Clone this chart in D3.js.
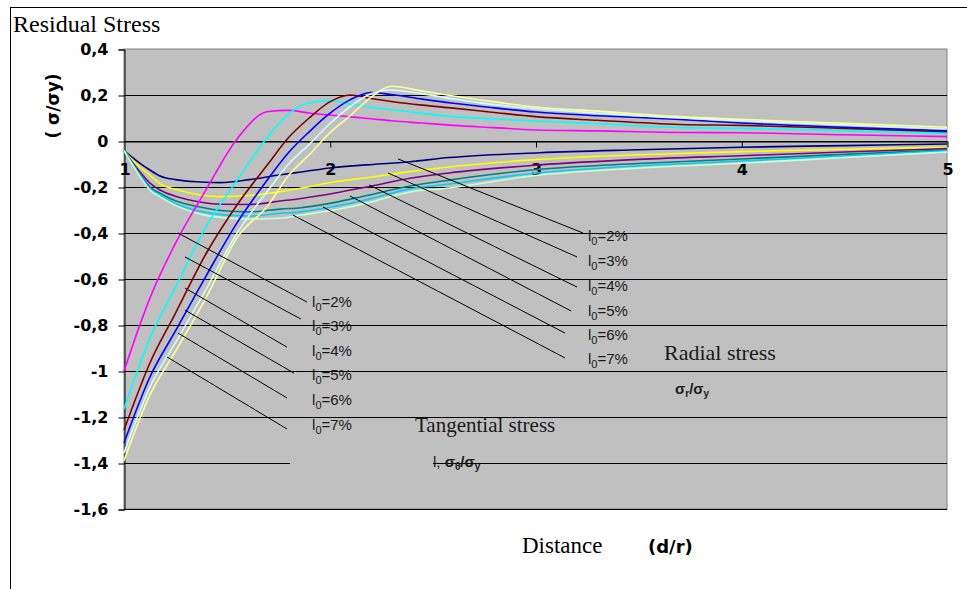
<!DOCTYPE html>
<html>
<head>
<meta charset="utf-8">
<script src="https://cdn.jsdelivr.net/npm/d3@7"></script>
<style>
  html, body { margin: 0; padding: 0; background: #fff; }
  svg { display: block; }
</style>
</head>
<body>
<svg id="chart" width="967" height="589"></svg>
<script>
// ---- data ----
const xTicks = [1, 2, 3, 4, 5];
const yTicks = [0.4, 0.2, 0, -0.2, -0.4, -0.6, -0.8, -1, -1.2, -1.4, -1.6];
const yTickLabels = ["0,4", "0,2", "0", "-0,2", "-0,4", "-0,6", "-0,8", "-1", "-1,2", "-1,4", "-1,6"];
const levels = ["2%", "3%", "4%", "5%", "6%", "7%"];

// tangential stress  σθ/σy
const tangentialX = [1, 1.126, 1.25, 1.4, 1.55, 1.7, 1.8, 1.9, 2.0, 2.1, 2.2, 2.3, 2.45, 2.6, 2.8, 3.0, 3.3, 3.7, 4.0, 4.5, 5.0];
const tangential2 = [-1.0, -0.683, -0.445, -0.21, 0.01, 0.128, 0.133, 0.122, 0.113, 0.105, 0.097, 0.088, 0.078, 0.068, 0.058, 0.048, 0.044, 0.037, 0.036, 0.027, 0.019];
const tangential3 = [-1.165, -0.857, -0.636, -0.37, -0.17, 0.02, 0.118, 0.166, 0.175, 0.162, 0.147, 0.136, 0.12, 0.106, 0.096, 0.087, 0.075, 0.058, 0.055, 0.045, 0.033];
const tangential4 = [-1.257, -0.965, -0.749, -0.488, -0.277, -0.1, 0.015, 0.1, 0.17, 0.2, 0.185, 0.172, 0.156, 0.143, 0.124, 0.106, 0.09, 0.072, 0.068, 0.055, 0.04];
const tangential5 = [-1.313, -1.026, -0.826, -0.585, -0.355, -0.165, -0.05, 0.04, 0.12, 0.18, 0.211, 0.202, 0.182, 0.164, 0.144, 0.126, 0.11, 0.094, 0.078, 0.06, 0.045];
const tangential6 = [-1.357, -1.07, -0.877, -0.643, -0.4, -0.215, -0.1, -0.015, 0.075, 0.15, 0.205, 0.222, 0.205, 0.183, 0.158, 0.14, 0.122, 0.1, 0.088, 0.07, 0.052];
const tangential7 = [-1.39, -1.104, -0.915, -0.68, -0.42, -0.28, -0.15, -0.06, 0.035, 0.11, 0.19, 0.238, 0.217, 0.196, 0.17, 0.148, 0.13, 0.106, 0.094, 0.077, 0.06];

// radial stress  σr/σy
const radialX = [1, 1.078, 1.126, 1.175, 1.25, 1.37, 1.47, 1.61, 1.76, 1.86, 2.02, 2.18, 2.39, 2.58, 3.02, 3.5, 4.0, 4.5, 5.0];
const radial2 = [-0.042, -0.097, -0.126, -0.152, -0.168, -0.178, -0.181, -0.168, -0.147, -0.135, -0.115, -0.104, -0.09, -0.072, -0.051, -0.038, -0.027, -0.02, -0.013];
const radial3 = [-0.042, -0.115, -0.148, -0.186, -0.21, -0.235, -0.242, -0.237, -0.22, -0.205, -0.178, -0.16, -0.133, -0.113, -0.08, -0.06, -0.046, -0.036, -0.027];
const radial4 = [-0.042, -0.135, -0.183, -0.213, -0.24, -0.265, -0.275, -0.276, -0.261, -0.25, -0.227, -0.2, -0.162, -0.139, -0.104, -0.08, -0.064, -0.048, -0.033];
const radial5 = [-0.042, -0.145, -0.2, -0.227, -0.26, -0.287, -0.302, -0.308, -0.296, -0.29, -0.268, -0.237, -0.196, -0.17, -0.123, -0.098, -0.078, -0.058, -0.039];
const radial6 = [-0.042, -0.15, -0.208, -0.235, -0.272, -0.306, -0.32, -0.326, -0.314, -0.308, -0.285, -0.255, -0.208, -0.187, -0.138, -0.108, -0.087, -0.065, -0.043];
const radial7 = [-0.042, -0.155, -0.213, -0.242, -0.28, -0.318, -0.332, -0.339, -0.336, -0.322, -0.3, -0.27, -0.222, -0.204, -0.148, -0.118, -0.097, -0.072, -0.048];

const tangentialColors = ["#ff00ff", "#00ffff", "#800000", "#0000ff", "#ccffff", "#ffff99"];
const radialColors = ["#000080", "#ffff00", "#800080", "#008080", "#00ccff", "#ccffcc"];

// leader lines: [x0, y0, x1, y1] in chart units
const tangentialLeaders = [
  [1.262, -0.40, 1.889, -0.70],
  [1.296, -0.504, 1.860, -0.774],
  [1.296, -0.639, 1.792, -0.896],
  [1.296, -0.735, 1.826, -1.009],
  [1.262, -0.835, 1.792, -1.117],
  [1.209, -0.939, 1.792, -1.252]
];
const tangentialLabelPos = [[1.914, -0.70], [1.914, -0.804], [1.914, -0.913], [1.914, -1.017], [1.914, -1.126], [1.914, -1.235]];
const radialLeaders = [
  [2.332, -0.078, 3.231, -0.40],
  [2.283, -0.139, 3.202, -0.504],
  [2.191, -0.191, 3.202, -0.635],
  [2.098, -0.239, 3.173, -0.739],
  [1.967, -0.287, 3.143, -0.835],
  [1.821, -0.322, 3.143, -0.943]
];
const radialLabelPos = [[3.255, -0.413], [3.255, -0.522], [3.255, -0.63], [3.255, -0.739], [3.255, -0.843], [3.255, -0.948]];

// ---- drawing ----
const svg = d3.select("#chart");
const x = d3.scaleLinear().domain([1, 5]).range([124, 947]);
const y = d3.scaleLinear().domain([-1.6, 0.4]).range([509, 49]);

// outer frame
svg.append("rect").attr("x", 10.5).attr("y", 7.5).attr("width", 970).attr("height", 600)
  .attr("fill", "#fff").attr("stroke", "#000").attr("stroke-width", 1);

// plot area
svg.append("rect").attr("x", x(1)).attr("y", y(0.4))
  .attr("width", x(5) - x(1)).attr("height", y(-1.6) - y(0.4))
  .attr("fill", "#c0c0c0").attr("stroke", "#808080").attr("stroke-width", 1);

// horizontal gridlines
svg.append("g").selectAll("line").data(yTicks.filter(v => v !== 0.4)).join("line")
  .attr("x1", x(1)).attr("x2", x(5))
  .attr("y1", d => Math.round(y(d)) + 0.5).attr("y2", d => Math.round(y(d)) + 0.5)
  .attr("stroke", "#000").attr("stroke-width", 1);

// a text panel hides part of the -1,4 gridline
svg.append("rect").attr("x", 290).attr("y", y(-1.4) - 6).attr("width", 143).attr("height", 12)
  .attr("fill", "#c0c0c0");

// y axis
const yAxis = d3.axisLeft(y).tickValues(yTicks).tickSize(6).tickFormat((d, i) => yTickLabels[i]);
const gy = svg.append("g").attr("transform", `translate(${x(1) + 0.5},0.5)`).call(yAxis);
gy.select(".domain").attr("stroke", "#000");
gy.selectAll(".tick line").attr("stroke", "#000");
gy.selectAll(".tick text")
  .attr("x", -16)
  .style("font-family", "'DejaVu Sans', sans-serif")
  .style("font-weight", "bold").style("font-size", "16px").attr("fill", "#000");

// x axis along zero line
const xAxis = d3.axisBottom(x).tickValues(xTicks).tickSize(6).tickSizeOuter(0).tickFormat(d3.format("d"));
const gx = svg.append("g").attr("transform", `translate(0.5,${Math.round(y(0)) + 0.5})`).call(xAxis);
gx.select(".domain").attr("stroke", "#000");
gx.selectAll(".tick line").attr("stroke", "#000").attr("y2", d => d === 1 ? 0 : 6);
gx.selectAll(".tick text")
  .attr("y", 22)
  .style("font-family", "'DejaVu Sans', sans-serif")
  .style("font-weight", "bold").style("font-size", "16px").attr("fill", "#000");

// curves
const line = d3.line().x(d => x(d[0])).y(d => y(d[1])).curve(d3.curveMonotoneX);
const tangentialSeries = [tangential2, tangential3, tangential4, tangential5, tangential6, tangential7];
const radialSeries = [radial2, radial3, radial4, radial5, radial6, radial7];

const curves = svg.append("g");
radialSeries.forEach((vals, i) => {
  curves.append("path").datum(vals.map((v, j) => [radialX[j], v]))
    .attr("d", line).attr("fill", "none")
    .attr("stroke", radialColors[i]).attr("stroke-width", 1.6);
});
tangentialSeries.forEach((vals, i) => {
  curves.append("path").datum(vals.map((v, j) => [tangentialX[j], v]))
    .attr("d", line).attr("fill", "none")
    .attr("stroke", tangentialColors[i]).attr("stroke-width", 1.6);
});

// leader lines + level labels
function drawLeaders(leaders, labelPos) {
  const g = svg.append("g");
  g.selectAll("line").data(leaders).join("line")
    .attr("x1", d => x(d[0])).attr("y1", d => y(d[1]))
    .attr("x2", d => x(d[2])).attr("y2", d => y(d[3]))
    .attr("stroke", "#000").attr("stroke-width", 1);
  labelPos.forEach((p, i) => {
    const t = g.append("text").attr("x", x(p[0])).attr("y", y(p[1]) + 5)
      .style("font-family", "'Liberation Sans', Arial, sans-serif")
      .style("font-size", "15px").attr("fill", "#1a1a1a");
    t.append("tspan").text("l");
    t.append("tspan").attr("dy", 4).style("font-size", "11px").text("0");
    t.append("tspan").attr("dy", -4).text("=" + levels[i]);
  });
}
drawLeaders(tangentialLeaders, tangentialLabelPos);
drawLeaders(radialLeaders, radialLabelPos);

// titles and annotations
svg.append("text").attr("x", 13).attr("y", 32)
  .style("font-family", "'Liberation Serif', 'Times New Roman', serif")
  .style("font-size", "24px").attr("fill", "#000").text("Residual Stress");

svg.append("text").attr("transform", "translate(59,106) rotate(-90)")
  .attr("text-anchor", "middle")
  .style("font-family", "'DejaVu Sans', sans-serif")
  .style("font-weight", "bold").style("font-size", "17px").attr("fill", "#000")
  .text("( σ/σy)");

svg.append("text").attr("x", 522).attr("y", 553)
  .style("font-family", "'Liberation Serif', 'Times New Roman', serif")
  .style("font-size", "23px").attr("fill", "#000").text("Distance");

svg.append("text").attr("x", 648).attr("y", 553)
  .style("font-family", "'DejaVu Sans', sans-serif")
  .style("font-weight", "bold").style("font-size", "18px").attr("fill", "#000").text("(d/r)");

svg.append("text").attr("x", 664).attr("y", 360)
  .style("font-family", "'Liberation Serif', 'Times New Roman', serif")
  .style("font-size", "22px").attr("fill", "#1a1a1a").text("Radial stress");

svg.append("text").attr("x", 415).attr("y", 432)
  .style("font-family", "'Liberation Serif', 'Times New Roman', serif")
  .style("font-size", "21px").attr("fill", "#1a1a1a").text("Tangential stress");

// σr/σy
const sr = svg.append("text").attr("x", 675).attr("y", 394)
  .style("font-family", "'Liberation Sans', Arial, sans-serif")
  .style("font-weight", "bold").style("font-size", "15px").attr("fill", "#1a1a1a");
sr.append("tspan").text("σ");
sr.append("tspan").attr("dy", 3).style("font-size", "10px").text("r");
sr.append("tspan").attr("dy", -3).text("/σ");
sr.append("tspan").attr("dy", 3).style("font-size", "10px").text("y");

// l, σθ/σy
const st = svg.append("text").attr("x", 433).attr("y", 467)
  .style("font-family", "'Liberation Sans', Arial, sans-serif")
  .style("font-size", "15px").attr("fill", "#1a1a1a");
st.append("tspan").text("l, ");
st.append("tspan").style("font-weight", "bold").text("σ");
st.append("tspan").attr("dy", 3).style("font-weight", "bold").style("font-size", "10px").text("θ");
st.append("tspan").attr("dy", -3).style("font-weight", "bold").text("/σ");
st.append("tspan").attr("dy", 3).style("font-weight", "bold").style("font-size", "10px").text("y");
</script>
</body>
</html>
